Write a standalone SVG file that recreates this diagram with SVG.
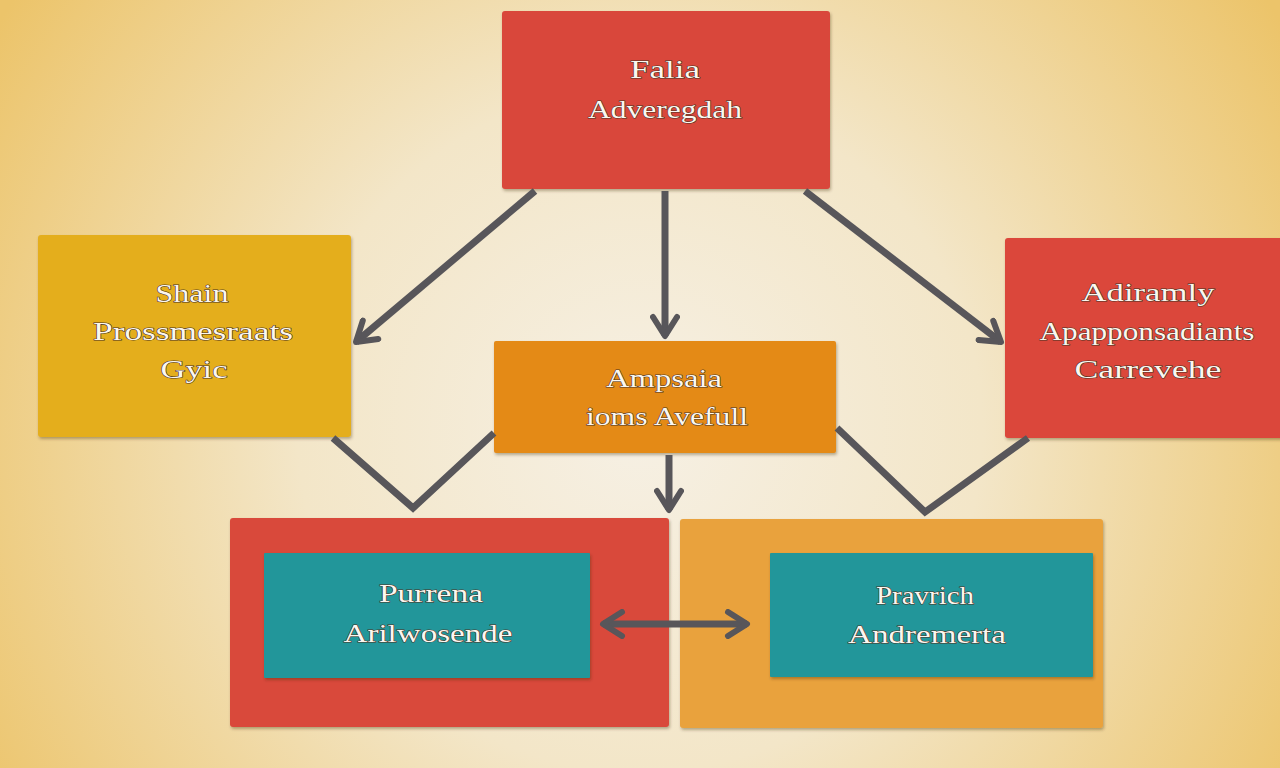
<svg xmlns="http://www.w3.org/2000/svg" width="1280" height="768" viewBox="0 0 1280 768">
<defs>
<radialGradient id="bg" cx="640" cy="430" r="760" gradientUnits="userSpaceOnUse">
<stop offset="0" stop-color="#f6f0e4"/>
<stop offset="0.45" stop-color="#f3e6c8"/>
<stop offset="1" stop-color="#ecc46a"/>
</radialGradient>
<filter id="sh" x="-5%" y="-5%" width="110%" height="115%">
<feDropShadow dx="1" dy="2" stdDeviation="1.5" flood-color="#3a2a10" flood-opacity="0.35"/>
</filter>
<marker id="ah" viewBox="0 0 30 30" refX="25" refY="15" markerWidth="30" markerHeight="30" markerUnits="userSpaceOnUse" orient="auto-start-reverse">
<path d="M6,3 L25,15 L6,27" fill="none" stroke="#58565a" stroke-width="6" stroke-linecap="round" stroke-linejoin="round"/>
</marker>
<style>
.box{filter:url(#sh);}
.t{font-family:"Liberation Serif","DejaVu Serif",serif;font-size:26px;fill:#fbf7f0;stroke:#4a3323;stroke-width:1.1;paint-order:stroke;text-anchor:middle;}
.c{fill:none;stroke:#58565a;stroke-width:7;stroke-linejoin:miter;}
.ca{marker-end:url(#ah);}
</style>
</defs>
<rect width="1280" height="768" fill="url(#bg)"/>

<g id="node-top">
<rect class="box" x="502" y="11" width="328" height="178" rx="3" fill="#d9473b"/>
<text class="t" x="665" y="78" textLength="70" lengthAdjust="spacingAndGlyphs">Falia</text>
<text class="t" x="665" y="118" textLength="154" lengthAdjust="spacingAndGlyphs">Adveregdah</text>
</g>

<g id="node-left">
<rect class="box" x="38" y="235" width="313" height="202" rx="3" fill="#e4ae1f"/>
<text class="t" x="192" y="302" textLength="73" lengthAdjust="spacingAndGlyphs">Shain</text>
<text class="t" x="193" y="340" textLength="200" lengthAdjust="spacingAndGlyphs">Prossmesraats</text>
<text class="t" x="194" y="378" textLength="67" lengthAdjust="spacingAndGlyphs">Gyic</text>
</g>

<g id="node-right">
<rect class="box" x="1005" y="238" width="280" height="200" rx="3" fill="#db463a"/>
<text class="t" x="1148" y="301" textLength="133" lengthAdjust="spacingAndGlyphs">Adiramly</text>
<text class="t" x="1147" y="340" textLength="215" lengthAdjust="spacingAndGlyphs">Apapponsadiants</text>
<text class="t" x="1148" y="378" textLength="147" lengthAdjust="spacingAndGlyphs">Carrevehe</text>
</g>

<g id="node-middle">
<rect class="box" x="494" y="341" width="342" height="112" rx="2" fill="#e48a15"/>
<text class="t" x="664" y="387" textLength="116" lengthAdjust="spacingAndGlyphs">Ampsaia</text>
<text class="t" x="667" y="425" textLength="162" lengthAdjust="spacingAndGlyphs">ioms Avefull</text>
</g>

<g id="node-bottom-left">
<rect class="box" x="230" y="518" width="439" height="209" rx="3" fill="#d9493b"/>
<rect class="box" x="264" y="553" width="326" height="125" rx="1" fill="#21969a"/>
<text class="t" x="431" y="602" textLength="104" lengthAdjust="spacingAndGlyphs">Purrena</text>
<text class="t" x="428" y="642" textLength="169" lengthAdjust="spacingAndGlyphs">Arilwosende</text>
</g>

<g id="node-bottom-right">
<rect class="box" x="680" y="519" width="423" height="209" rx="3" fill="#e9a23c"/>
<rect class="box" x="770" y="553" width="323" height="124" rx="1" fill="#21969a"/>
<text class="t" x="925" y="604" textLength="98" lengthAdjust="spacingAndGlyphs">Pravrich</text>
<text class="t" x="927" y="643" textLength="158" lengthAdjust="spacingAndGlyphs">Andremerta</text>
</g>

<g id="connectors">
<path class="c ca" d="M535,191 L356,342"/>
<path class="c ca" d="M665,191 L665,336"/>
<path class="c ca" d="M805,191 L1001,342"/>
<path class="c" d="M333,438 L413,508 L494,433"/>
<path class="c" d="M837,428 L925,512 L1028,438"/>
<path class="c ca" d="M669,455 L669,510"/>
<path class="c ca" d="M675,624 L747,624"/>
<path class="c ca" d="M675,624 L603,624"/>
</g>
</svg>
